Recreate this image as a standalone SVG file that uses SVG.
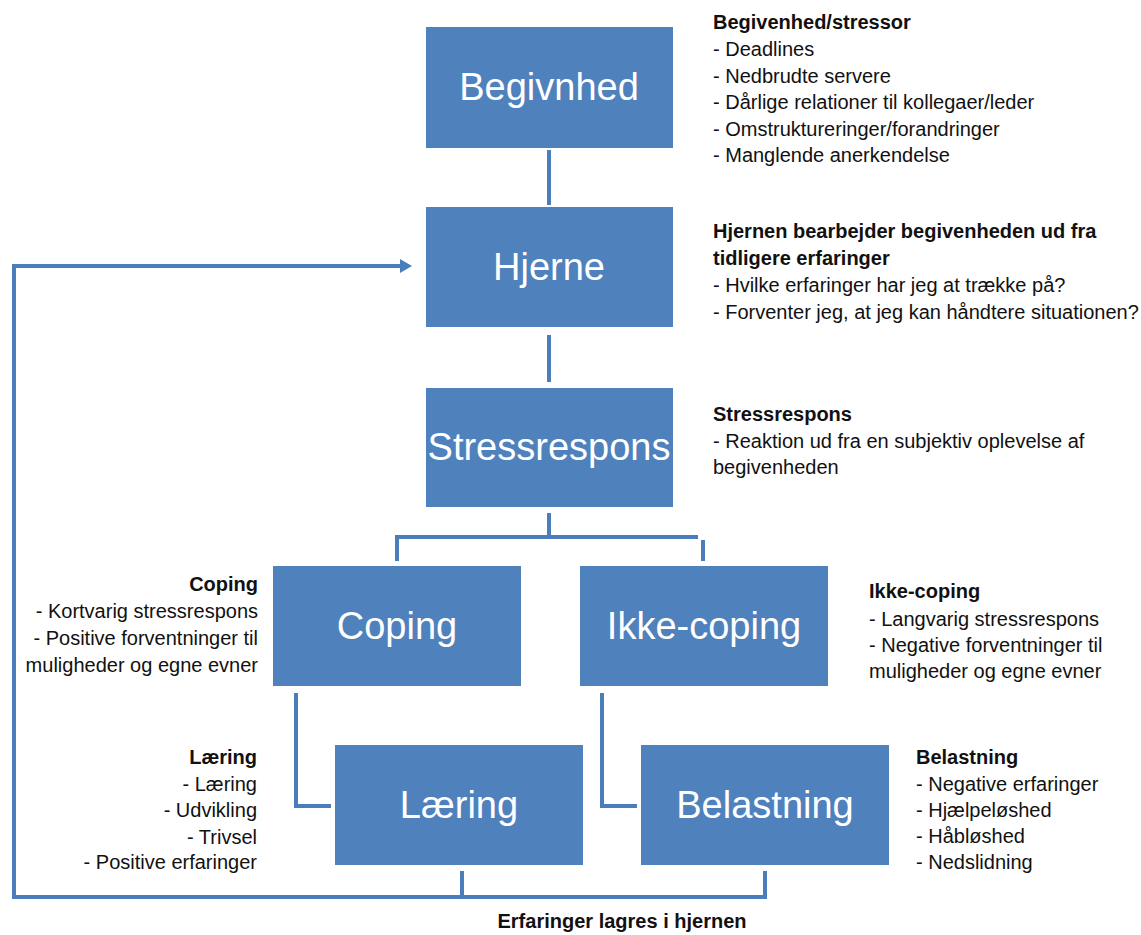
<svg xmlns="http://www.w3.org/2000/svg" width="1141" height="935" viewBox="0 0 1141 935">
<defs>
<style>
.box{fill:#4F81BD;}
.bt{font-family:"Liberation Sans",Arial,sans-serif;font-size:38px;fill:#ffffff;text-anchor:middle;}
.t{font-family:"Liberation Sans",Arial,sans-serif;font-size:20px;fill:#111111;}
.b{font-weight:bold;}
.r{text-anchor:end;}
.ln{fill:none;stroke:#4A7EBB;stroke-width:4;}
</style>
<marker id="ah" markerWidth="12" markerHeight="14" refX="1" refY="7" orient="auto" markerUnits="userSpaceOnUse">
<path d="M0,0 L12,7 L0,14 Z" fill="#4A7EBB"/>
</marker>
</defs>
<rect width="1141" height="935" fill="#ffffff"/>
<g id="connectors">
<line class="ln" x1="549" y1="150" x2="549" y2="205"/>
<line class="ln" x1="549" y1="335" x2="549" y2="382"/>
<polyline class="ln" points="549,513 549,537"/>
<polyline class="ln" points="397,561 397,537 698,537"/>
<line class="ln" x1="703" y1="540" x2="703" y2="561"/>
<polyline class="ln" points="296,693 296,806 331,806"/>
<polyline class="ln" points="602,693 602,806 637,806"/>
<polyline class="ln" points="462,871 462,897"/>
<polyline class="ln" points="765,871 765,897 14,897 14,266 401,266" marker-end="url(#ah)"/>
</g>
<g id="begivnhed">
<rect class="box" x="426" y="27" width="247" height="121"/>
<text class="bt" x="549" y="100">Begivnhed</text>
</g>
<g id="hjerne">
<rect class="box" x="426" y="207" width="247" height="120"/>
<text class="bt" x="549" y="280">Hjerne</text>
</g>
<g id="stressrespons">
<rect class="box" x="426" y="388" width="247" height="119"/>
<text class="bt" x="549" y="460">Stressrespons</text>
</g>
<g id="coping">
<rect class="box" x="273" y="566" width="248" height="120"/>
<text class="bt" x="397" y="639">Coping</text>
</g>
<g id="ikke-coping">
<rect class="box" x="580" y="566" width="248" height="120"/>
<text class="bt" x="704" y="639">Ikke-coping</text>
</g>
<g id="laering">
<rect class="box" x="335" y="745" width="248" height="120"/>
<text class="bt" x="459" y="818">Læring</text>
</g>
<g id="belastning">
<rect class="box" x="641" y="745" width="248" height="120"/>
<text class="bt" x="765" y="818">Belastning</text>
</g>
<g id="text-begivenhed">
<text class="t b" x="713" y="29">Begivenhed/stressor</text>
<text class="t" x="713" y="56">- Deadlines</text>
<text class="t" x="713" y="83">- Nedbrudte servere</text>
<text class="t" x="713" y="109">- Dårlige relationer til kollegaer/leder</text>
<text class="t" x="713" y="136">- Omstruktureringer/forandringer</text>
<text class="t" x="713" y="162">- Manglende anerkendelse</text>
</g>
<g id="text-hjerne">
<text class="t b" x="713" y="238">Hjernen bearbejder begivenheden ud fra</text>
<text class="t b" x="713" y="265">tidligere erfaringer</text>
<text class="t" x="713" y="292">- Hvilke erfaringer har jeg at trække på?</text>
<text class="t" x="713" y="319">- Forventer jeg, at jeg kan håndtere situationen?</text>
</g>
<g id="text-stressrespons">
<text class="t b" x="713" y="421">Stressrespons</text>
<text class="t" x="713" y="448">- Reaktion ud fra en subjektiv oplevelse af</text>
<text class="t" x="713" y="474">begivenheden</text>
</g>
<g id="text-coping">
<text class="t b r" x="258" y="591">Coping</text>
<text class="t r" x="258" y="618">- Kortvarig stressrespons</text>
<text class="t r" x="258" y="645">- Positive forventninger til</text>
<text class="t r" x="258" y="672">muligheder og egne evner</text>
</g>
<g id="text-ikke-coping">
<text class="t b" x="869" y="598">Ikke-coping</text>
<text class="t" x="869" y="626">- Langvarig stressrespons</text>
<text class="t" x="869" y="652">- Negative forventninger til</text>
<text class="t" x="869" y="678">muligheder og egne evner</text>
</g>
<g id="text-laering">
<text class="t b r" x="257" y="764">Læring</text>
<text class="t r" x="257" y="791">- Læring</text>
<text class="t r" x="257" y="817">- Udvikling</text>
<text class="t r" x="257" y="844">- Trivsel</text>
<text class="t r" x="257" y="869">- Positive erfaringer</text>
</g>
<g id="text-belastning">
<text class="t b" x="916" y="764">Belastning</text>
<text class="t" x="916" y="791">- Negative erfaringer</text>
<text class="t" x="916" y="817">- Hjælpeløshed</text>
<text class="t" x="916" y="843">- Håbløshed</text>
<text class="t" x="916" y="869">- Nedslidning</text>
</g>
<g id="text-bottom">
<text class="t b" x="622" y="928" text-anchor="middle">Erfaringer lagres i hjernen</text>
</g>
</svg>
